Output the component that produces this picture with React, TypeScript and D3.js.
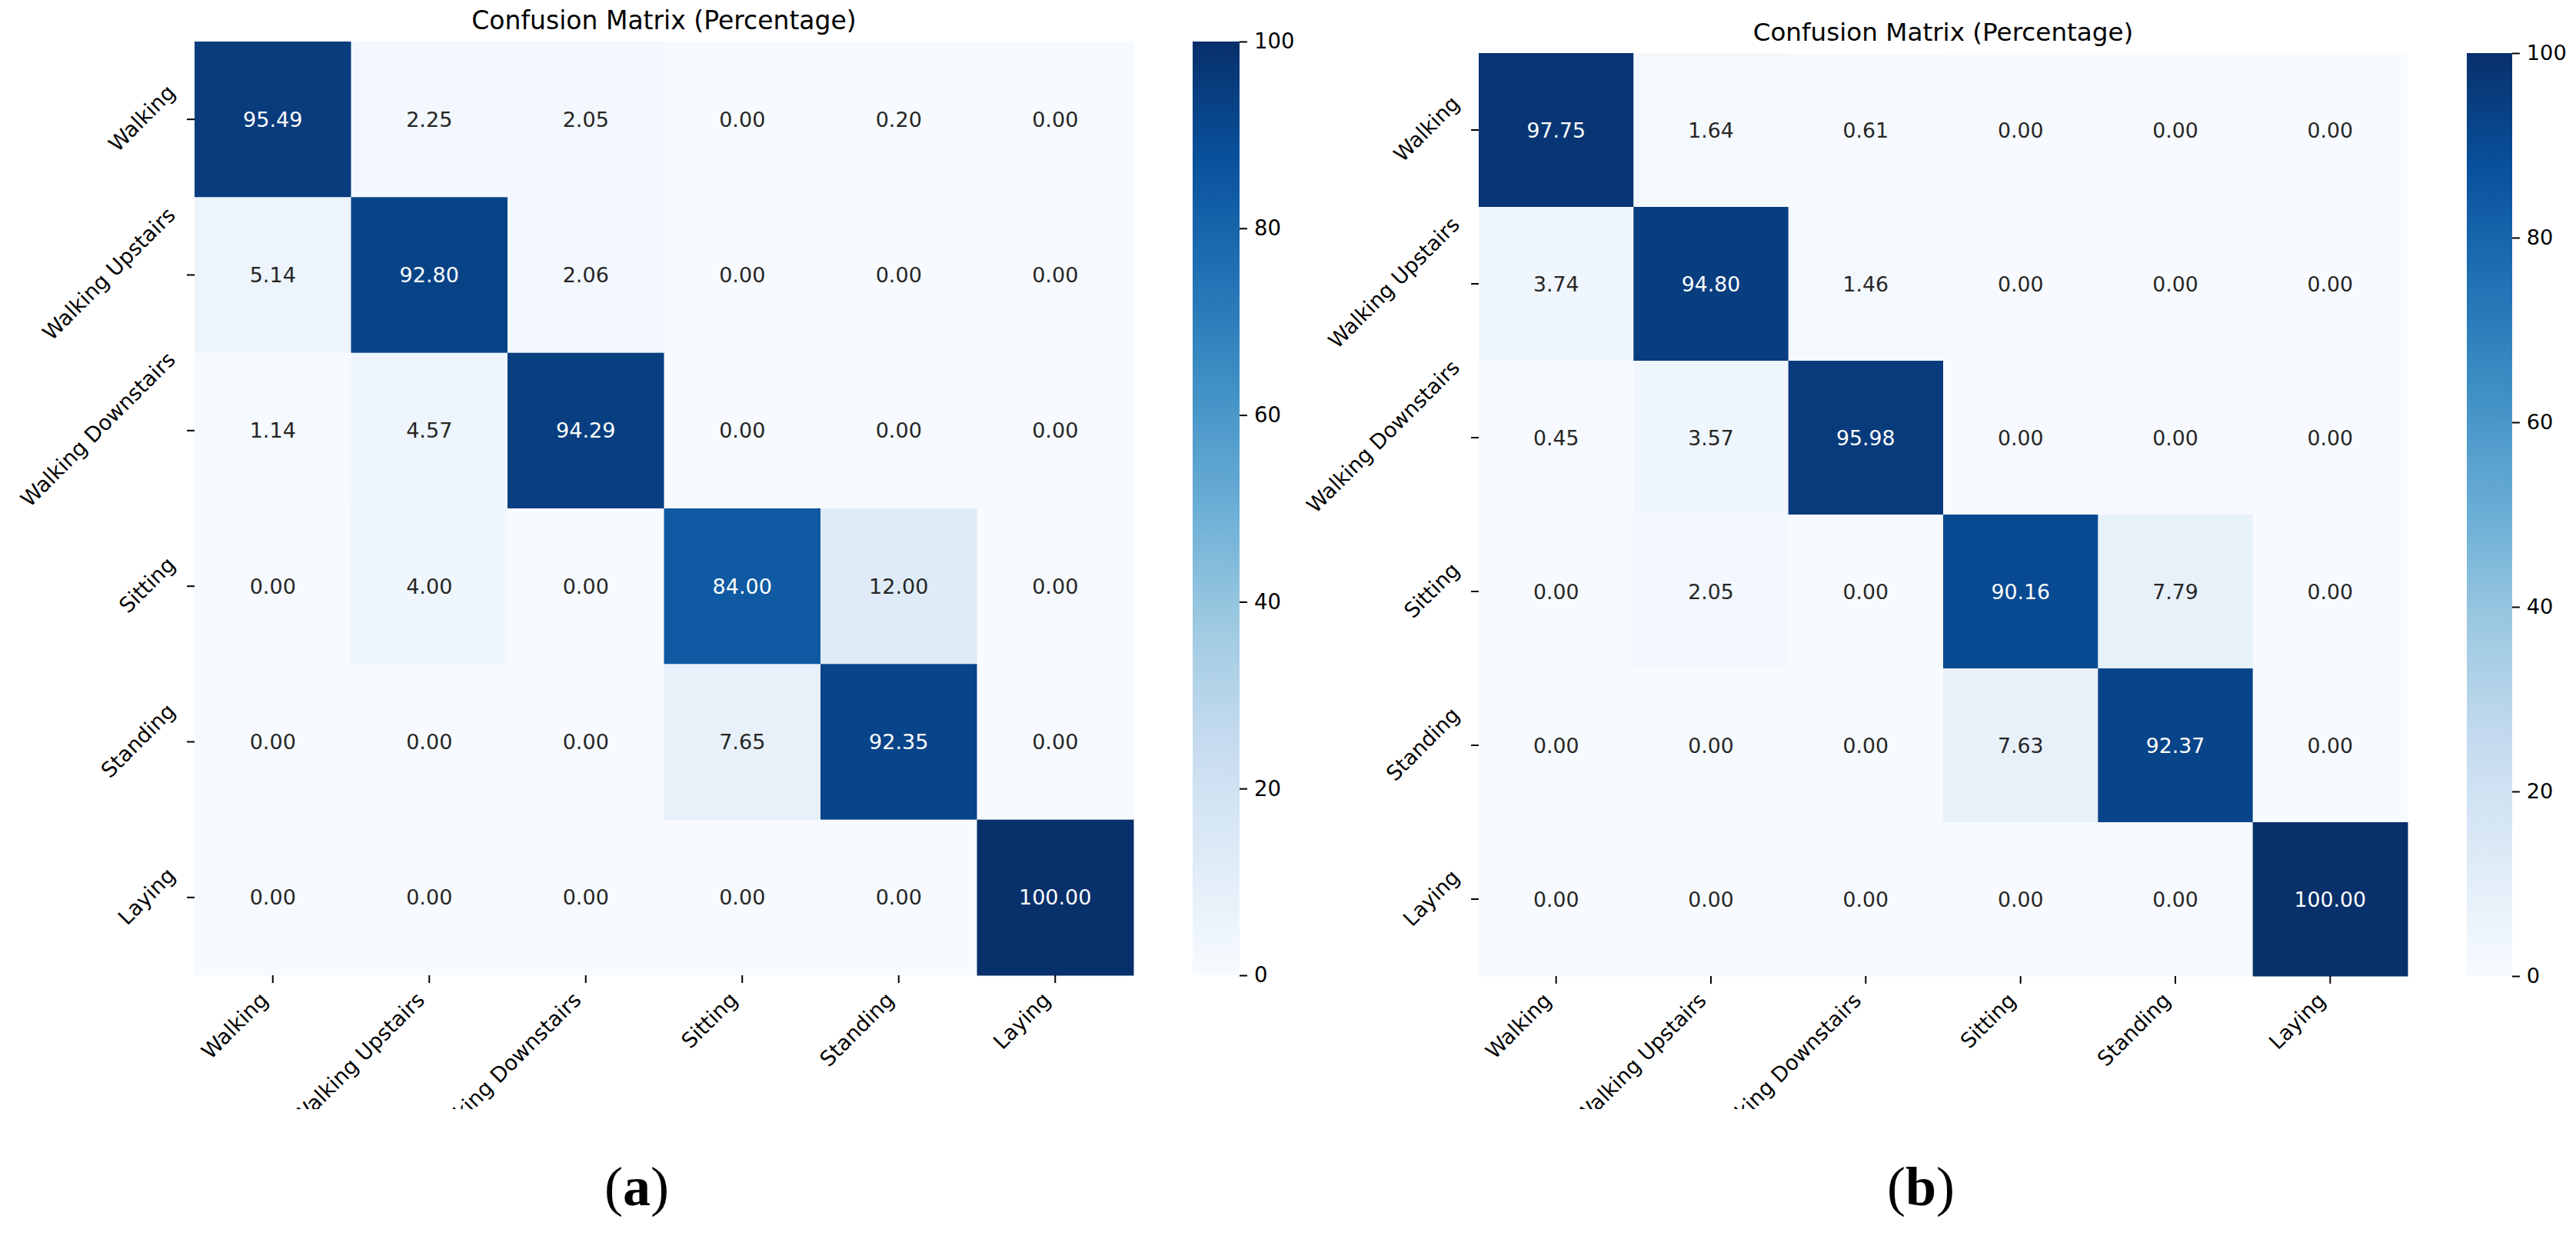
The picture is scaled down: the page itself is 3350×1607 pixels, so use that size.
import React, { useRef, useEffect } from 'react';
import * as d3 from 'd3';

const LABELS = ['Walking', 'Walking Upstairs', 'Walking Downstairs', 'Sitting', 'Standing', 'Laying'];

// percentages, rows = true class, columns = predicted class
const MATRIX_A = [
  [95.49, 2.25, 2.05, 0.0, 0.2, 0.0],
  [5.14, 92.8, 2.06, 0.0, 0.0, 0.0],
  [1.14, 4.57, 94.29, 0.0, 0.0, 0.0],
  [0.0, 4.0, 0.0, 84.0, 12.0, 0.0],
  [0.0, 0.0, 0.0, 7.65, 92.35, 0.0],
  [0.0, 0.0, 0.0, 0.0, 0.0, 100.0]
];
const MATRIX_B = [
  [97.75, 1.64, 0.61, 0.0, 0.0, 0.0],
  [3.74, 94.8, 1.46, 0.0, 0.0, 0.0],
  [0.45, 3.57, 95.98, 0.0, 0.0, 0.0],
  [0.0, 2.05, 0.0, 90.16, 7.79, 0.0],
  [0.0, 0.0, 0.0, 7.63, 92.37, 0.0],
  [0.0, 0.0, 0.0, 0.0, 0.0, 100.0]
];
const CBAR_TICKS = [0, 20, 40, 60, 80, 100];
const TITLE = 'Confusion Matrix (Percentage)';

// matplotlib "Blues" segment colours
const BLUES = ['#f7fbff', '#deebf7', '#c6dbef', '#9ecae1', '#6baed6', '#4292c6', '#2171b5', '#08519c', '#08306b'];

const W = 3350;
const H = 1607;
const CLIP_Y = 1442;
const FONT = '"DejaVu Sans", sans-serif';

interface PanelLayout {
  id: string;
  left: number;
  top: number;
  width: number;
  height: number;
  cbarX: number;
  cbarW: number;
  captionX: number;
  caption: string;
}

const PANEL_A: PanelLayout = { id: 'a', left: 253, top: 54, width: 1221, height: 1214, cbarX: 1551, cbarW: 61, captionX: 828, caption: 'a' };
const PANEL_B: PanelLayout = { id: 'b', left: 1923, top: 69, width: 1208, height: 1200, cbarX: 3208, cbarW: 59, captionX: 2498, caption: 'b' };

const color = d3
  .scaleLinear<string>()
  .domain(BLUES.map((_, i) => (i * 100) / (BLUES.length - 1)))
  .range(BLUES)
  .interpolate(d3.interpolateRgb)
  .clamp(true);

// seaborn picks white/black annotation text by relative luminance
function luminance(c: string) {
  const { r, g, b } = d3.rgb(c);
  const f = (v: number) => {
    v /= 255;
    return v <= 0.03928 ? v / 12.92 : Math.pow((v + 0.055) / 1.055, 2.4);
  };
  return 0.2126 * f(r) + 0.7152 * f(g) + 0.0722 * f(b);
}

function drawPanel(svg: d3.Selection<SVGSVGElement, unknown, null, undefined>, p: PanelLayout, matrix: number[][]) {
  const s = p.width / 1221;
  const tickLen = 10 * s;
  const pad = 9 * s;
  const fs = 27.5 * s;
  const annFs = 27 * s;
  const asc = 0.76 * fs;
  const desc = 0.23 * fs;
  const r2 = Math.SQRT2;

  const g = svg.append('g').attr('clip-path', 'url(#clip)');

  const x = d3.scaleBand<string>().domain(LABELS).range([p.left, p.left + p.width]);
  const y = d3.scaleBand<string>().domain(LABELS).range([p.top, p.top + p.height]);

  const cells = matrix.flatMap((row, i) => row.map((v, j) => ({ row: LABELS[i], col: LABELS[j], v })));

  // 画格子
  g.append('g')
    .selectAll('rect')
    .data(cells)
    .enter()
    .append('rect')
    .attr('x', (d) => x(d.col) as number)
    .attr('y', (d) => y(d.row) as number)
    .attr('width', x.bandwidth() + 0.5)
    .attr('height', y.bandwidth() + 0.5)
    .attr('fill', (d) => color(d.v));

  // 数值标注
  g.append('g')
    .selectAll('text')
    .data(cells)
    .enter()
    .append('text')
    .attr('x', (d) => (x(d.col) as number) + x.bandwidth() / 2)
    .attr('y', (d) => (y(d.row) as number) + y.bandwidth() / 2)
    .attr('text-anchor', 'middle')
    .attr('dominant-baseline', 'central')
    .attr('font-family', FONT)
    .attr('font-size', annFs)
    .attr('fill', (d) => (luminance(color(d.v)) > 0.408 ? '#262626' : '#ffffff'))
    .text((d) => d.v.toFixed(2));

  // x 轴
  const xAxis = g
    .append('g')
    .attr('transform', `translate(0, ${p.top + p.height})`)
    .call(d3.axisBottom(x).tickSize(tickLen).tickPadding(0));
  xAxis.select('.domain').remove();
  xAxis.selectAll('line').attr('stroke', '#000').attr('stroke-width', 2 * s);
  xAxis
    .selectAll<SVGTextElement, string>('text')
    .attr('font-family', FONT)
    .attr('font-size', fs)
    .attr('fill', '#000')
    .attr('y', null)
    .attr('dy', null)
    .attr('text-anchor', 'end')
    .attr('transform', () => {
      const ax = -desc / r2;
      const ay = tickLen + pad + asc / r2;
      return `translate(${ax}, ${ay}) rotate(-45)`;
    });

  // y 轴
  const yAxis = g
    .append('g')
    .attr('transform', `translate(${p.left}, 0)`)
    .call(d3.axisLeft(y).tickSize(tickLen).tickPadding(0));
  yAxis.select('.domain').remove();
  yAxis.selectAll('line').attr('stroke', '#000').attr('stroke-width', 2 * s);
  yAxis
    .selectAll<SVGTextElement, string>('text')
    .attr('font-family', FONT)
    .attr('font-size', fs)
    .attr('fill', '#000')
    .attr('x', null)
    .attr('dy', null)
    .attr('text-anchor', 'end')
    .attr('transform', function () {
      const L = this.getComputedTextLength();
      const ax = -(tickLen + pad) - desc / r2;
      const ay = -(L + desc - asc) / (2 * r2);
      return `translate(${ax}, ${ay}) rotate(-45)`;
    });

  // 标题
  g.append('text')
    .attr('x', p.left + p.width / 2)
    .attr('y', p.top - 16 * s)
    .attr('text-anchor', 'middle')
    .attr('font-family', FONT)
    .attr('font-size', 33 * s)
    .attr('fill', '#000')
    .text(TITLE);

  // colorbar
  const gradId = `grad-${p.id}`;
  const grad = svg
    .select('defs')
    .append('linearGradient')
    .attr('id', gradId)
    .attr('x1', 0)
    .attr('y1', 1)
    .attr('x2', 0)
    .attr('y2', 0);
  grad
    .selectAll('stop')
    .data(BLUES)
    .enter()
    .append('stop')
    .attr('offset', (_, i) => i / (BLUES.length - 1))
    .attr('stop-color', (d) => d);

  g.append('rect')
    .attr('x', p.cbarX)
    .attr('y', p.top)
    .attr('width', p.cbarW)
    .attr('height', p.height)
    .attr('fill', `url(#${gradId})`);

  const cy = d3.scaleLinear().domain([0, 100]).range([p.top + p.height, p.top]);
  const cAxis = g
    .append('g')
    .attr('transform', `translate(${p.cbarX + p.cbarW}, 0)`)
    .call(d3.axisRight(cy).tickValues(CBAR_TICKS).tickSize(tickLen).tickPadding(pad).tickFormat(d3.format('d')));
  cAxis.select('.domain').remove();
  cAxis.selectAll('line').attr('stroke', '#000').attr('stroke-width', 2 * s);
  cAxis.selectAll('text').attr('font-family', FONT).attr('font-size', fs).attr('fill', '#000');

  // 子图编号
  const cap = svg
    .append('text')
    .attr('x', p.captionX)
    .attr('y', 1567)
    .attr('text-anchor', 'middle')
    .attr('font-family', '"Liberation Serif", "Times New Roman", serif')
    .attr('font-size', 72)
    .attr('fill', '#000');
  cap.append('tspan').text('(');
  cap.append('tspan').attr('font-weight', 'bold').text(p.caption);
  cap.append('tspan').text(')');
}

export default function App(): JSX.Element {
  const ref = useRef<SVGSVGElement>(null);

  useEffect(() => {
    document.body.style.margin = '0';
    const el = ref.current;
    if (el == null) {
      return;
    }
    const svg = d3.select(el);
    svg.selectAll('*').remove();
    svg.append('rect').attr('width', W).attr('height', H).attr('fill', '#fff');
    const defs = svg.append('defs');
    defs.append('clipPath').attr('id', 'clip').append('rect').attr('x', 0).attr('y', 0).attr('width', W).attr('height', CLIP_Y);
    drawPanel(svg, PANEL_A, MATRIX_A);
    drawPanel(svg, PANEL_B, MATRIX_B);
  }, []);

  return <svg ref={ref} width={W} height={H} style={{ display: 'block' }} />;
}
